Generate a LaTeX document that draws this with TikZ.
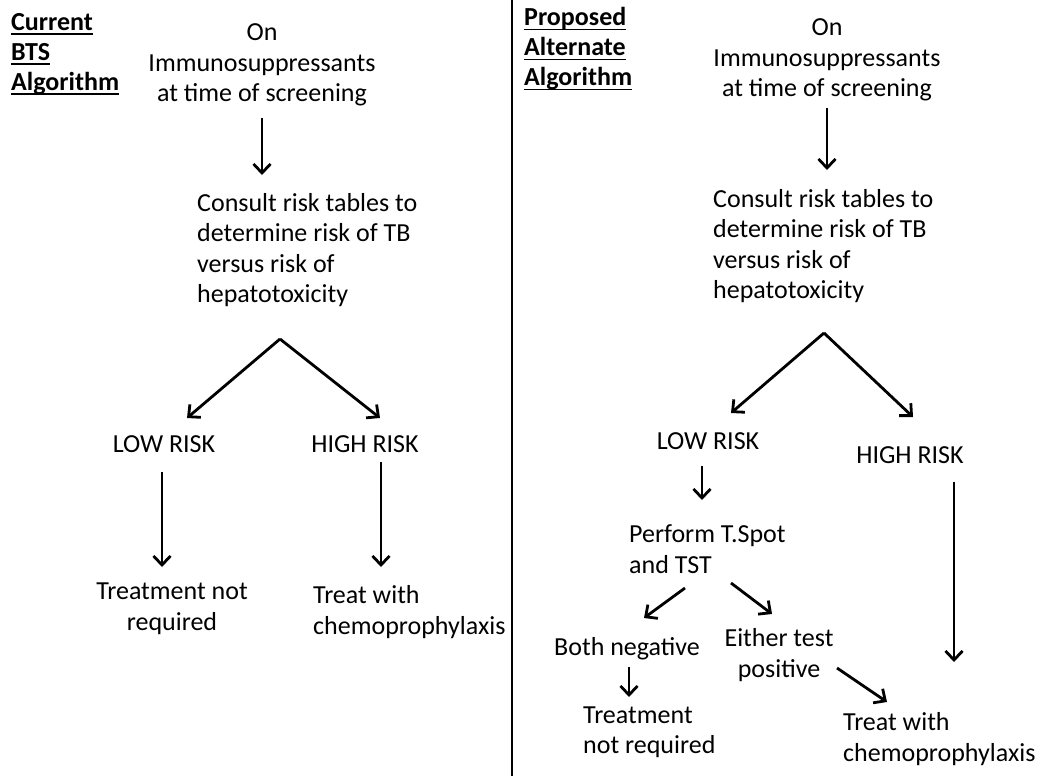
\documentclass[tikz,border=0pt]{standalone}
\usepackage{fontspec}
\setmainfont{Carlito}
\usetikzlibrary{arrows.meta}
\newcommand{\hdrul}[1]{\setbox0\hbox{#1}\rlap{\rule[-5pt]{\wd0}{1.8pt}}\box0}
\tikzset{
  lbl/.style={inner sep=0pt, font=\fontsize{26}{30.5}\selectfont},
  ctr/.style={lbl, align=center},
  lft/.style={lbl, align=left, anchor=west},
  hdr/.style={inner sep=0pt, align=left, anchor=north west, font=\fontsize{26}{30}\selectfont\bfseries},
  arr/.style={line width=2.8pt, -{Straight Barb[length=9pt,width=17pt,line width=2.8pt]}},
  divider/.style={line width=2.6pt}
}
\begin{document}
\begin{tikzpicture}[x=1pt,y=-1pt]
\useasboundingbox (0,0) rectangle (1042,776);
% divider
\coordinate (dtop) at (512,0);
\coordinate (dbot) at (512,776);
\draw[divider] (dtop) -- (dbot);

% ---------- left: current BTS algorithm ----------
\node[hdr] (hL) at (11,13) {\hdrul{Current}\\\hdrul{BTS}\\\hdrul{Algorithm}};
\node[ctr] (onL) at (262,65) {On\\Immunosuppressants\\at time of screening};
\node[lft] (conL) at (197,250) {Consult risk tables to\\determine risk of TB\\versus risk of\\hepatotoxicity};
\node[ctr] (lowL) at (164,444.5) {LOW RISK};
\node[ctr] (highL) at (365,444.5) {HIGH RISK};
\node[ctr] (ntL) at (172,608.5) {Treatment not\\required};
\node[lft] (trL) at (313,612) {Treat with\\chemoprophylaxis};

\coordinate (a1s) at (262,118); \coordinate (a1e) at (262,175);
\coordinate (apL) at (280,339);
\coordinate (bLl) at (187,418); \coordinate (bLr) at (380,418);
\coordinate (a2s) at (162,472); \coordinate (a2e) at (162,567);
\coordinate (a3s) at (381,462); \coordinate (a3e) at (381,567);
\draw[arr] (a1s) -- (a1e);
\draw[arr] (apL) -- (bLl);
\draw[arr] (apL) -- (bLr);
\draw[arr] (a2s) -- (a2e);
\draw[arr] (a3s) -- (a3e);

% ---------- right: proposed alternate algorithm ----------
\node[hdr] (hR) at (524,7) {\hdrul{Proposed}\\\hdrul{Alternate}\\\hdrul{Algorithm}};
\node[ctr] (onR) at (827,60) {On\\Immunosuppressants\\at time of screening};
\node[lft] (conR) at (713,246) {Consult risk tables to\\determine risk of TB\\versus risk of\\hepatotoxicity};
\node[ctr] (lowR) at (708,441) {LOW RISK};
\node[ctr] (highR) at (910,455.5) {HIGH RISK};
\node[lft] (perf) at (629,549) {Perform T.Spot\\and TST};
\node[ctr] (neg) at (627,649) {Both negative};
\node[ctr] (pos) at (779,655) {Either test\\positive};
\node[lft] (ntR) at (583,732) {Treatment\\not required};
\node[lft] (trR) at (843,739) {Treat with\\chemoprophylaxis};

\coordinate (c1s) at (827,108); \coordinate (c1e) at (827,170);
\coordinate (apR) at (824,333);
\coordinate (bRl) at (731,413); \coordinate (bRr) at (913,417);
\coordinate (c2s) at (702,466); \coordinate (c2e) at (702,500);
\coordinate (c3s) at (685,588); \coordinate (c3e) at (644,618);
\coordinate (c4s) at (731,583); \coordinate (c4e) at (772,614);
\coordinate (c5s) at (629,667); \coordinate (c5e) at (629,697);
\coordinate (c6s) at (837,668); \coordinate (c6e) at (887,702);
\coordinate (c7s) at (954,482); \coordinate (c7e) at (954,662);
\draw[arr] (c1s) -- (c1e);
\draw[arr] (apR) -- (bRl);
\draw[arr] (apR) -- (bRr);
\draw[arr] (c2s) -- (c2e);
\draw[arr] (c3s) -- (c3e);
\draw[arr] (c4s) -- (c4e);
\draw[arr] (c5s) -- (c5e);
\draw[arr] (c6s) -- (c6e);
\draw[arr] (c7s) -- (c7e);
\end{tikzpicture}
\end{document}
